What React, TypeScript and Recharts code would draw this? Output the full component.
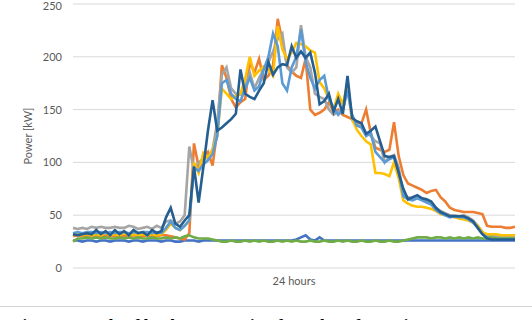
import React from 'react';
import { LineChart, Line, XAxis, YAxis, CartesianGrid } from 'recharts';

// 96 samples over 24 hours (15-minute intervals)
const slots: string[] = Array.from({ length: 96 }, (_, i) => `${Math.floor(i / 4)}:${String((i % 4) * 15).padStart(2, '0')}`);

const yTicks = [0, 50, 100, 150, 200, 250];

const blueFlat = [
  26, 26, 25, 26, 26, 25, 26, 26, 25, 26, 26, 26, 25, 26, 26, 25, 26, 26, 26, 25,
  26, 26, 25, 25, 26, 26, 26, 25, 26, 26, 26, 26, 26, 26, 26, 26, 26, 26, 26, 26,
  26, 26, 26, 26, 26, 26, 26, 26, 27, 29, 31, 27, 26, 29, 26, 26, 26, 26, 26, 26,
  26, 26, 26, 26, 26, 26, 26, 26, 26, 26, 26, 26, 26, 26, 26, 26, 26, 26, 26, 26,
  26, 26, 26, 26, 26, 26, 26, 26, 26, 26, 26, 26, 26, 26, 26, 26,
];

const orange = [
  30, 31, 30, 30, 31, 30, 30, 31, 30, 30, 31, 30, 30, 31, 30, 30, 31, 30, 30, 31,
  31, 30, 29, 28, 27, 33, 118, 96, 105, 110, 97, 130, 192, 180, 160, 152, 157, 160, 195, 185,
  198, 178, 182, 192, 236, 215, 192, 186, 182, 180, 198, 150, 145, 147, 150, 157, 148, 150, 145, 143,
  141, 138, 137, 150, 128, 114, 112, 110, 112, 138, 106, 88, 80, 78, 76, 74, 71, 73, 74, 67,
  63, 57, 55, 54, 53, 53, 53, 52, 51, 40, 39, 39, 39, 38, 38, 39,
];

const gray = [
  38, 37, 38, 37, 39, 38, 39, 38, 38, 39, 38, 38, 40, 39, 37, 38, 39, 37, 40, 38,
  44, 45, 42, 44, 50, 115, 92, 100, 103, 105, 112, 138, 183, 190, 170, 165, 164, 172, 185, 170,
  180, 188, 195, 205, 217, 222, 190, 185, 190, 230, 200, 190, 165, 162, 160, 150, 145, 148, 150, 170,
  140, 135, 135, 128, 125, 120, 118, 100, 105, 107, 95, 70, 67, 66, 68, 66, 64, 62, 57, 54,
  52, 50, 50, 49, 50, 48, 45, 40, 34, 30, 30, 30, 30, 30, 30, 30,
];

const yellow = [
  31, 32, 31, 32, 31, 32, 31, 33, 31, 32, 31, 33, 31, 32, 31, 32, 31, 32, 31, 32,
  36, 42, 38, 36, 40, 45, 100, 90, 109, 104, 112, 125, 170, 165, 160, 163, 165, 179, 200, 182,
  187, 191, 188, 182, 229, 207, 198, 204, 213, 212, 210, 206, 204, 176, 170, 160, 150, 165, 155, 175,
  141, 131, 125, 120, 117, 90, 90, 89, 87, 100, 85, 64, 61, 59, 58, 58, 57, 56, 54, 51,
  50, 49, 48, 47, 46, 45, 43, 40, 34, 32, 32, 32, 31, 31, 31, 31,
];

const lightBlue = [
  33, 34, 33, 34, 34, 33, 34, 33, 34, 33, 34, 34, 33, 34, 33, 34, 34, 33, 34, 33,
  38, 44, 38, 36, 40, 45, 95, 92, 98, 102, 108, 125, 175, 178, 165, 160, 158, 170, 180, 168,
  172, 188, 200, 222, 210, 175, 168, 190, 200, 226, 195, 180, 170, 178, 182, 160, 152, 145, 150, 168,
  145, 135, 133, 125, 128, 110, 105, 100, 103, 105, 92, 68, 65, 64, 66, 64, 62, 60, 55, 52,
  50, 48, 49, 48, 48, 46, 43, 38, 32, 29, 28, 28, 28, 28, 28, 28,
];

const green = [
  25, 28, 28, 29, 28, 29, 28, 29, 28, 28, 29, 28, 29, 28, 29, 28, 28, 29, 28, 28,
  29, 28, 29, 28, 30, 31, 29, 28, 28, 28, 27, 26, 25, 25, 26, 25, 25, 26, 25, 26,
  25, 26, 25, 25, 26, 25, 26, 25, 26, 25, 25, 26, 25, 25, 26, 25, 25, 26, 25, 26,
  25, 25, 26, 25, 25, 26, 25, 25, 26, 25, 25, 26, 27, 28, 29, 29, 29, 28, 29, 29,
  28, 29, 28, 29, 28, 29, 28, 29, 28, 28, 29, 28, 28, 28, 28, 28,
];

const darkBlue = [
  32, 31, 32, 33, 32, 36, 32, 35, 31, 36, 32, 35, 31, 36, 33, 34, 31, 36, 33, 35,
  48, 57, 42, 39, 45, 50, 96, 62, 95, 130, 159, 130, 133, 137, 141, 146, 188, 165, 162, 160,
  168, 175, 195, 183, 190, 193, 192, 210, 199, 205, 199, 204, 185, 155, 158, 165, 148, 160, 146, 182,
  142, 139, 137, 127, 130, 134, 120, 106, 105, 106, 90, 75, 65, 67, 69, 66, 65, 63, 57, 53,
  51, 49, 49, 49, 49, 47, 44, 38, 32, 28, 27, 27, 27, 27, 27, 27,
];

const seriesDefs = [
  { key: 's1', name: 'Load 1', color: '#4472C4', values: blueFlat },
  { key: 's2', name: 'Load 2', color: '#ED7D31', values: orange },
  { key: 's3', name: 'Load 3', color: '#A5A5A5', values: gray },
  { key: 's4', name: 'Load 4', color: '#FFC000', values: yellow },
  { key: 's5', name: 'Load 5', color: '#5B9BD5', values: lightBlue },
  { key: 's6', name: 'Load 6', color: '#70AD47', values: green },
  { key: 's7', name: 'Load 7', color: '#255E91', values: darkBlue },
];

const data = slots.map((t, i) => {
  const row: Record<string, number | string> = { t };
  seriesDefs.forEach((s) => {
    row[s.key] = s.values[i];
  });
  return row;
});

const FONT = 'Lato, "Open Sans", sans-serif';

const YLabel = (props: any) => {
  const vb = props.viewBox || { x: 0, y: 0, width: 0, height: 0 };
  const cx = vb.x + 19;
  const cy = vb.y + vb.height / 2;
  return (
    <text
      x={cx}
      y={cy}
      transform={`rotate(-90, ${cx}, ${cy})`}
      textAnchor="middle"
      dominantBaseline="central"
      fill="#595959"
      fontSize={11}
      fontFamily={FONT}
    >
      Power [kW]
    </text>
  );
};

export default function App() {
  return (
    <div
      style={{
        position: 'absolute',
        left: 0,
        top: 0,
        width: 532,
        height: 320,
        overflow: 'hidden',
        background: '#ffffff',
      }}
    >
      <LineChart
        width={532}
        height={300}
        data={data}
        margin={{ top: 4, right: 17, left: 8, bottom: 12 }}
      >
        <CartesianGrid vertical={false} stroke="#D9D9D9" strokeWidth={1} />
        <XAxis
          dataKey="t"
          tick={false}
          tickLine={false}
          axisLine={false}
          height={20}
          label={{
            value: '24 hours',
            position: 'insideBottom',
            offset: 3,
            fill: '#595959',
            fontSize: 11,
            fontFamily: FONT,
          }}
        />
        <YAxis
          width={65}
          domain={[0, 250]}
          ticks={yTicks}
          tickLine={false}
          axisLine={false}
          tickSize={0}
          tickMargin={11}
          tick={{ fill: '#595959', fontSize: 11, fontFamily: FONT }}
          label={<YLabel />}
        />
        {seriesDefs.map((s) => (
          <Line
            key={s.key}
            dataKey={s.key}
            name={s.name}
            stroke={s.color}
            strokeWidth={2.6}
            dot={false}
            activeDot={false}
            type="linear"
            isAnimationActive={false}
          />
        ))}
      </LineChart>
      <div
        style={{
          position: 'absolute',
          left: 0,
          top: 306,
          width: 532,
          height: 1,
          background: '#D5D5D5',
        }}
      />
      <div
        style={{
          position: 'absolute',
          left: 12,
          top: 316,
          whiteSpace: 'nowrap',
          fontFamily: '"Liberation Serif", "DejaVu Serif", serif',
          fontWeight: 'bold',
          fontSize: 17,
          color: '#000',
          lineHeight: '20px',
        }}
      >
        Fig. 1 Example of load consumption for 1 day of 7 stations
      </div>
    </div>
  );
}
